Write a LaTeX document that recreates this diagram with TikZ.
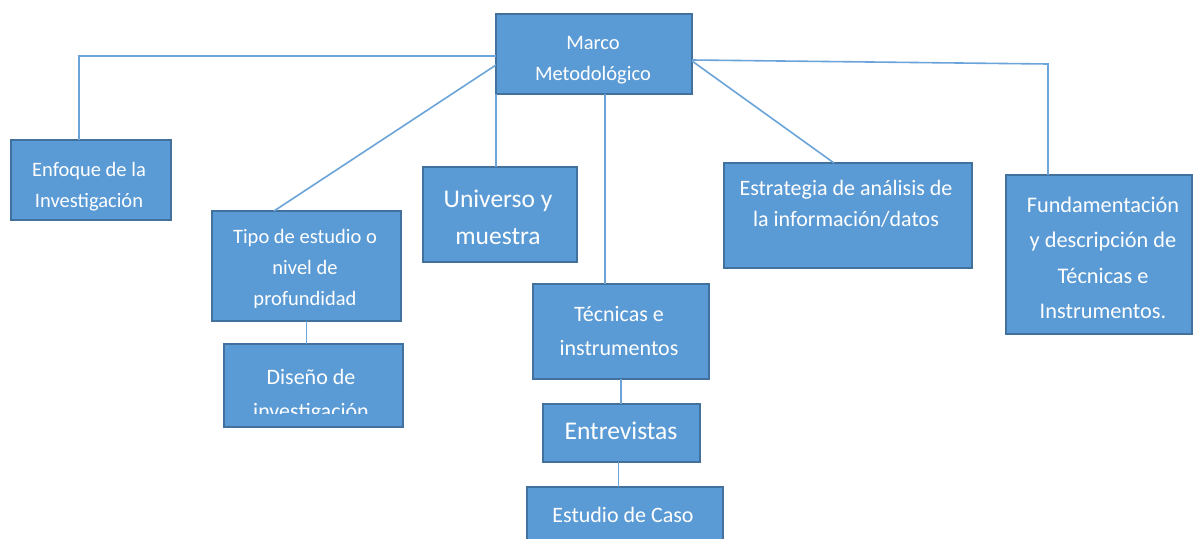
\documentclass[tikz,border=0pt]{standalone}
\usepackage{fontspec}
\setmainfont{Carlito}
\usetikzlibrary{calc}
\definecolor{boxfill}{HTML}{5B9BD5}
\definecolor{boxline}{HTML}{41719C}
\definecolor{connline}{HTML}{6AA4D9}
\tikzset{
  box/.style={draw=boxline, fill=boxfill, line width=1.6pt, inner sep=0pt, outer sep=0pt},
  conn/.style={draw=connline, line width=1.6pt},
  txt/.style={text=white, align=center, inner sep=0pt, font=\fontsize{20.5}{31}\selectfont},
  txtmid/.style={txt, font=\fontsize{22}{34}\selectfont},
  txtbig/.style={txt, font=\fontsize{25.5}{37}\selectfont},
  txtwide/.style={txt, font=\fontsize{22}{31}\selectfont},
  txtfund/.style={txt, font=\fontsize{22.3}{35.5}\selectfont},
}
\begin{document}
\begin{tikzpicture}[x=1pt, y=-1pt]
\useasboundingbox (0,0) rectangle (1193,538);
\fill[white] (0,0) rectangle (1193,538);
\clip (0,0) rectangle (1193,538);

% boxes
\node[box, minimum width=196pt, minimum height=80pt] (marco) at (594,54) {};
\node[box, minimum width=160pt, minimum height=80pt] (enfoque) at (91,180) {};
\node[box, minimum width=189pt, minimum height=110pt] (tipo) at (306.5,266) {};
\node[box, minimum width=154pt, minimum height=95pt] (universo) at (500,214.5) {};
\node[box, minimum width=179pt, minimum height=83pt] (diseno) at (313.5,385.5) {};
\node[box, minimum width=176pt, minimum height=95pt] (tecnicas) at (621,331.5) {};
\node[box, minimum width=157pt, minimum height=58pt] (entrevistas) at (621.5,433) {};
\node[box, minimum width=196pt, minimum height=63pt] (estudio) at (625,518.5) {};
\node[box, minimum width=248pt, minimum height=105pt] (estrategia) at (848,215.5) {};
\node[box, minimum width=186pt, minimum height=159pt] (fund) at (1099,254.5) {};

% connectors
\coordinate (b1) at (79,56);
\coordinate (b2) at (1048,64);
\coordinate (t1) at ($(marco.south)+(11,0)$);
\coordinate (e1) at ($(entrevistas.south)+(-3,0)$);
\draw[conn] (marco.west |- b1) -- (b1) -- (b1 |- enfoque.north);
\draw[conn] ($(marco.west)+(0,11)$) -- ($(tipo.north west)+(62,0)$);
\draw[conn] (marco.south west) -- (marco.south west |- universo.north);
\draw[conn] (t1) -- (t1 |- tecnicas.north);
\draw[conn] ($(marco.east)+(0,7)$) -- ($(estrategia.north)+(-14,0)$);
\draw[conn] ($(marco.east)+(0,6)$) -- (b2) -- (b2 |- fund.north);
\draw[conn] (tipo.south) -- (tipo.south |- diseno.north);
\draw[conn] (tecnicas.south) -- (tecnicas.south |- entrevistas.north);
\draw[conn] (e1) -- (e1 |- estudio.north);

% texts
\node[txt] (marcot) at (593,60) {Marco\\Metodológico};
\begin{scope}
\clip (enfoque.north west) rectangle ($(enfoque.south east)+(0,-6)$);
\node[txt] (enfoquet) at (89,187) {Enfoque de la\\Investigación};
\end{scope}
\begin{scope}
\clip (tipo.north west) rectangle ($(tipo.south east)+(0,-14)$);
\node[txt] (tipot) at (305,269) {Tipo de estudio o\\nivel de\\profundidad};
\end{scope}
\begin{scope}
\clip (diseno.north west) rectangle ($(diseno.south east)+(0,-14)$);
\node[txtmid] (disenot) at (311,396) {Diseño de\\investigación};
\end{scope}
\node[txtbig] (universot) at (498,217) {Universo y\\muestra};
\node[txtmid] (tecnicast) at (619,331) {Técnicas e\\instrumentos};
\node[txtbig] (entrevistast) at (621,431) {Entrevistas};
\node[txtmid] (estudiot) at (623,515) {Estudio de Caso};
\node[txtwide] (estrategiat) at (846,204) {Estrategia de análisis de\\la información/datos};
\node[txtfund] (fundt) at (1103,258) {Fundamentación\\y descripción de\\Técnicas e\\Instrumentos.};
\end{tikzpicture}
\end{document}
